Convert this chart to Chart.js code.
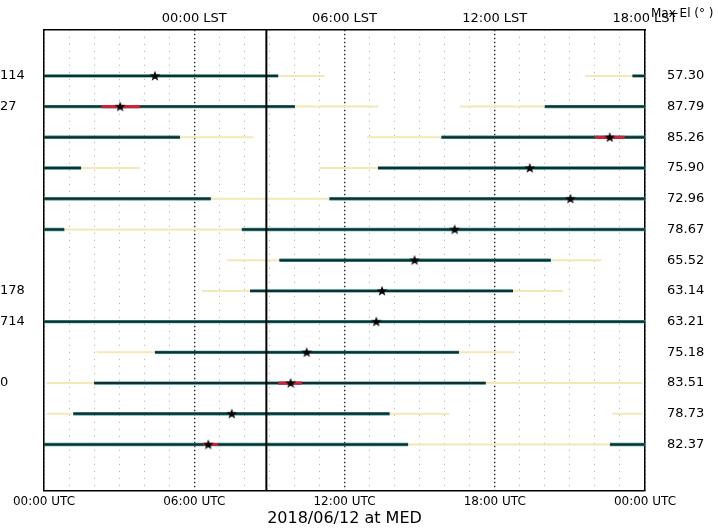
<!DOCTYPE html>
<html><head><meta charset="utf-8">
<script src="https://cdn.jsdelivr.net/npm/chart.js@4.4.0/dist/chart.umd.min.js"></script>
<style>html,body{margin:0;padding:0;background:#fff}#wrap{width:718px;height:530px}</style>
</head><body><div id="wrap"><canvas id="c" width="718" height="530"></canvas></div>
<script>
// ---- data ----
const rowLabelsLeft = ['114','27','','','','','','178','714','','0','',''];
const maxEl = ['57.30','87.79','85.26','75.90','72.96','78.67','65.52','63.14','63.21','75.18','83.51','78.73','82.37'];
const utcTickPos = [0,6,12,18,24];
const utcTickLabels = ['00:00 UTC','06:00 UTC','12:00 UTC','18:00 UTC','00:00 UTC'];
const lstTickPos = [6,12,18,24];
const lstTickLabels = ['00:00 LST','06:00 LST','12:00 LST','18:00 LST'];
const gridHours = [0,1,2,3,4,5,6,7,8,9,10,11,12,13,14,15,16,17,18,19,20,21,22,23,24];
const dateTitle = '2018/06/12 at MED';
const nowUTC = 8.88;
const darkSegs = [
 [[0,9.35],[23.5,24]],
 [[0,10.02],[20.0,24]],
 [[0,5.43],[15.87,24]],
 [[0,1.48],[13.34,24]],
 [[0,6.66],[11.4,24]],
 [[0,0.81],[7.9,24]],
 [[9.4,20.24]],
 [[8.23,18.73]],
 [[0,24]],
 [[4.43,16.57]],
 [[2.0,17.64]],
 [[1.17,13.8]],
 [[0,14.54],[22.6,24]]
];
const lightSegs = [
 [[9.35,11.2],[21.6,23.5]],
 [[10.02,13.34],[16.6,20.0]],
 [[5.43,8.36],[12.9,15.87]],
 [[1.48,3.83],[11.0,13.34]],
 [[6.66,11.4]],
 [[0.81,7.9]],
 [[7.3,9.4],[20.24,22.26]],
 [[6.3,8.23],[18.73,20.73]],
 [],
 [[2.1,4.43],[16.57,18.8]],
 [[0.1,2.0],[17.64,23.9]],
 [[0.1,1.1],[13.8,16.2],[22.7,23.9]],
 [[14.54,22.6]]
];
const redSegs = [[],[[2.3,3.83]],[[21.99,23.19]],[],[],[],[],[],[],[],[[9.35,10.3]],[],[[6.35,6.94]]];
const starTimes = [4.43,3.04,22.59,19.4,21.02,16.4,14.8,13.5,13.27,10.49,9.85,7.5,6.56];

// ---- build ----
function segData(segs){
  const d=[];
  segs.forEach((row,i)=>row.forEach(([a,b])=>{d.push({x:a,y:i+1},{x:b,y:i+1},{x:b,y:null});}));
  return d;
}
function starCanvas(){
  const c=document.createElement('canvas'); c.width=12; c.height=12;
  const g=c.getContext('2d'); g.fillStyle='#000'; g.beginPath();
  for(let k=0;k<10;k++){const r=k%2?2.3:5.6; const a=-Math.PI/2+k*Math.PI/5; const px=6+r*Math.cos(a), py=6.3+r*Math.sin(a); k?g.lineTo(px,py):g.moveTo(px,py);}
  g.closePath(); g.fill(); return c;
}
Chart.defaults.font.family='"DejaVu Sans", sans-serif';
Chart.defaults.color='#000';
const lineBase={pointRadius:0,spanGaps:false,fill:false,tension:0,borderCapStyle:'butt'};
const datasets=[
  Object.assign({label:'stars',type:'scatter',data:starTimes.map((t,i)=>({x:t,y:i+1})),pointStyle:starCanvas(),pointRadius:6,order:0,showLine:false}),
  Object.assign({},lineBase,{label:'now',data:[{x:nowUTC,y:-0.5},{x:nowUTC,y:14.5}],borderColor:'#000',borderWidth:2,order:1}),
  Object.assign({},lineBase,{label:'red',data:segData(redSegs),borderColor:'#c8243a',borderWidth:3.2,order:2}),
  Object.assign({},lineBase,{label:'dark',data:segData(darkSegs),borderColor:'rgba(20,28,28,0.85)',borderWidth:2,order:3}),
  Object.assign({},lineBase,{label:'teal',data:segData(darkSegs),borderColor:'#2a8f8a',borderWidth:3.4,order:4}),
  Object.assign({},lineBase,{label:'light',data:segData(lightSegs),borderColor:'#f3e8b6',borderWidth:2,order:5})
];
const maxElTitle={id:'maxElTitle',afterDraw(ch){const g=ch.ctx;g.save();g.font='12px "DejaVu Sans", sans-serif';g.fillStyle='#000';g.textBaseline='middle';g.textAlign='left';g.fillText('Max El (° )',651,14);g.restore();}};
new Chart(document.getElementById('c'),{
  type:'line',
  data:{datasets},
  plugins:[maxElTitle],
  options:{
    responsive:false,animation:false,devicePixelRatio:1,
    layout:{padding:0},
    plugins:{legend:{display:false},tooltip:{enabled:false}},
    scales:{
      x:{type:'linear',position:'bottom',min:0,max:24,
        afterBuildTicks:s=>{s.ticks=gridHours.map(v=>({value:v}));},
        ticks:{autoSkip:false,maxRotation:0,font:{size:12},color:'#000',padding:4,
          callback:v=>{const k=utcTickPos.indexOf(v);return k>=0?utcTickLabels[k]:'';}},
        grid:{drawTicks:false,
          color:c=>(c.tick&&c.tick.value%6===0)?'#2a2a2a':'#a8a8a8',
          lineWidth:c=>(c.tick&&c.tick.value%6===0)?1.4:1},
        border:{display:true,color:'#000',width:1.5,
          dash:c=>(c.tick&&c.tick.value%6===0)?[1.5,2.5]:[1,6]},
        title:{display:true,text:dateTitle,font:{size:16},color:'#000',padding:{top:0,bottom:2}},
        afterFit:s=>{s.height=39.4;}
      },
      x2:{type:'linear',position:'top',min:0,max:24,
        afterBuildTicks:s=>{s.ticks=lstTickPos.map(v=>({value:v}));},
        ticks:{autoSkip:false,maxRotation:0,font:{size:13},color:'#000',padding:3.5,
          callback:(v,i)=>lstTickLabels[i]},
        grid:{display:false,drawTicks:false},
        border:{display:true,color:'#000',width:1.5},
        afterFit:s=>{s.height=27;}
      },
      y:{type:'linear',position:'left',reverse:true,min:-0.5,max:14.5,
        afterBuildTicks:s=>{s.ticks=maxEl.map((_,i)=>({value:i+1}));},
        ticks:{autoSkip:false,crossAlign:'far',font:{size:13},color:'#000',
          callback:v=>rowLabelsLeft[v-1]||''},
        grid:{display:false,drawTicks:false},
        border:{display:true,color:'#000',width:1.5},
        afterFit:s=>{s.width=44;}
      },
      y2:{type:'linear',position:'right',reverse:true,min:-0.5,max:14.5,
        afterBuildTicks:s=>{s.ticks=maxEl.map((_,i)=>({value:i+1}));},
        ticks:{autoSkip:false,crossAlign:'near',padding:22,font:{size:13},color:'#000',
          callback:v=>maxEl[v-1]||''},
        grid:{display:false,drawTicks:false},
        border:{display:true,color:'#000',width:1.5},
        afterFit:s=>{s.width=73;}
      }
    }
  }
});
</script></body></html>
